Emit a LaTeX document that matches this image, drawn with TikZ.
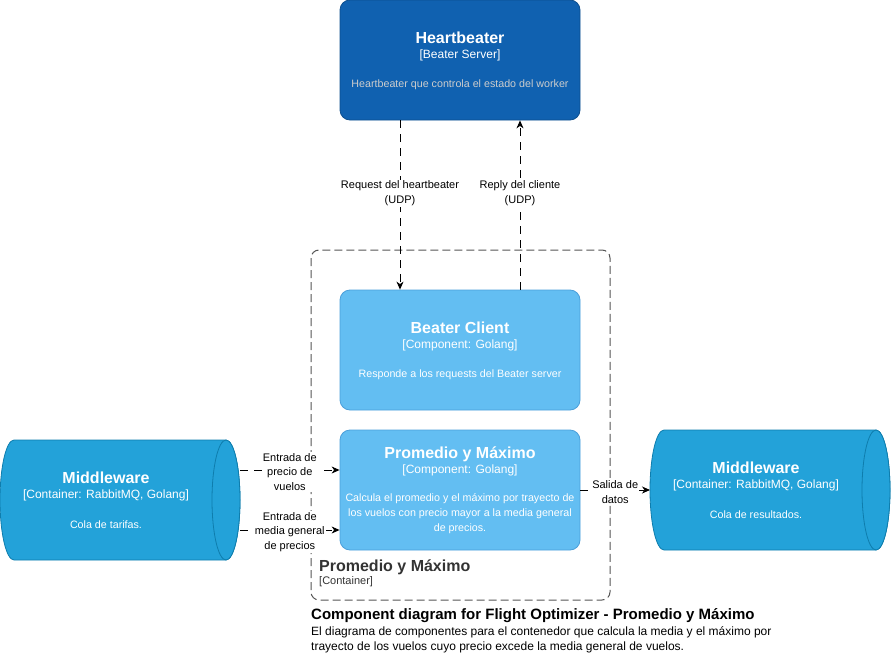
\documentclass[tikz,border=0pt]{standalone}
\usepackage{fontspec}
\setmainfont{Liberation Sans}
\usetikzlibrary{positioning,arrows.meta}
\definecolor{hbfill}{HTML}{1061B0}
\definecolor{hbline}{HTML}{0D4F8F}
\definecolor{cpfill}{HTML}{63BEF2}
\definecolor{cpline}{HTML}{4A9FDA}
\definecolor{cyfill}{HTML}{23A2D9}
\definecolor{cyline}{HTML}{0E7DAD}
\definecolor{hbtext}{HTML}{CCCCCC}
\definecolor{bdtext}{HTML}{333333}
\definecolor{bdline}{HTML}{555555}

\begin{document}
\begin{tikzpicture}[x=1pt,y=-1pt,
  box/.style={draw, rounded corners=10pt, minimum width=240pt, minimum height=120pt, line width=0.8pt},
  cyl/.style={draw=cyline, fill=cyfill, line width=0.8pt},
  ttl/.style={text=white, font=\fontsize{16}{19}\selectfont\bfseries},
  sub/.style={text=white, font=\fontsize{12}{14}\selectfont},
  dsc/.style={text=white, font=\fontsize{10.7}{15}\selectfont, align=center},
  rel/.style={dash pattern=on 8pt off 6pt, -{Stealth[length=8pt, width=7pt, inset=2.5pt]}, line width=0.9pt},
  lbl/.style={fill=white, font=\fontsize{11}{14.5}\selectfont, align=center, inner sep=1pt}]
\tikzstyle{every node}+=[inner sep=0pt]
\useasboundingbox (0,0) rectangle (891,661);
% container boundary
\draw [bdline, line width=1pt, dash pattern=on 8pt off 4pt, rounded corners=8pt] (311,250) rectangle (610,600);
\node [anchor=west, text=bdtext, font=\fontsize{16}{19}\selectfont\bfseries] (bdttl) at (319,567) {Promedio y Máximo};
\node [anchor=west, text=bdtext, font=\fontsize{11}{13}\selectfont] (bdsub) at (319,582) {[Container]};
% heartbeater
\node [box, draw=hbline, fill=hbfill] (hb) at (460,60) {};
\node [ttl] (hbttl) at (460,38) {Heartbeater};
\node [sub] (hbsub) at (460,55) {[Beater Server]};
\node [dsc, text=hbtext] (hbdsc) at (460,85) {Heartbeater que controla el estado del worker};
% beater client
\node [box, draw=cpline, fill=cpfill] (bc) at (460,350) {};
\node [ttl] (bcttl) at (460,328) {Beater Client};
\node [sub] (bcsub) at (460,345) {[Component: Golang]};
\node [dsc] (bcdsc) at (460,375) {Responde a los requests del Beater server};
% promedio y maximo
\node [box, draw=cpline, fill=cpfill] (pym) at (460,490) {};
\node [ttl] (pymttl) at (460,454) {Promedio y Máximo};
\node [sub] (pymsub) at (460,470) {[Component: Golang]};
\node [dsc] (pymdsc) at (460,514) {Calcula el promedio y el máximo por trayecto de\\los vuelos con precio mayor a la media general\\de precios.};
% middleware in
\draw [cyl] (14,440) -- (226,440) arc [start angle=-90, end angle=90, x radius=14, y radius=60] -- (14,560) arc [start angle=90, end angle=270, x radius=14, y radius=60] -- cycle;
\draw [cyl] (226,500) ellipse [x radius=14, y radius=60];
\node [ttl] (mwinttl) at (106,478) {Middleware};
\node [sub] (mwinsub) at (106,495) {[Container: RabbitMQ, Golang]};
\node [dsc] (mwindsc) at (106,525) {Cola de tarifas.};
\coordinate (mwinA) at (240,470);
\coordinate (mwinB) at (240,530);
% middleware out
\draw [cyl] (664,430) -- (876,430) arc [start angle=-90, end angle=90, x radius=14, y radius=60] -- (664,550) arc [start angle=90, end angle=270, x radius=14, y radius=60] -- cycle;
\draw [cyl] (876,490) ellipse [x radius=14, y radius=60];
\node [ttl] (mwoutttl) at (756,468) {Middleware};
\node [sub] (mwoutsub) at (756,485) {[Container: RabbitMQ, Golang]};
\node [dsc] (mwoutdsc) at (756,515) {Cola de resultados.};
\coordinate (mwout) at (650,490);
% relations
\draw [rel] ([xshift=-60pt]hb.south) -- ([xshift=-60pt]bc.north) node [lbl, pos=0.43] {Request del heartbeater\\(UDP)};
\draw [rel] ([xshift=60pt]bc.north) -- ([xshift=60pt]hb.south) node [lbl, pos=0.57] {Reply del cliente\\(UDP)};
\draw [rel] (mwinA) -- (mwinA -| pym.west) node [lbl, midway, yshift=-2pt] {Entrada de\\precio de\\vuelos};
\draw [rel] (mwinB) -- (mwinB -| pym.west) node [lbl, midway, yshift=-2pt] {Entrada de\\media general\\de precios};
\draw [rel] (pym.east) -- (mwout) node [lbl, midway, yshift=-2pt] {Salida de\\datos};
% caption
\node [anchor=west, font=\fontsize{15}{18}\selectfont\bfseries] (capttl) at (311,616) {Component diagram for Flight Optimizer - Promedio y Máximo};
\node [anchor=north west, align=left, font=\fontsize{12}{15}\selectfont] (capdsc) at (311,626) {El diagrama de componentes para el contenedor que calcula la media y el máximo por\\trayecto de los vuelos cuyo precio excede la media general de vuelos.};
\end{tikzpicture}
\end{document}
